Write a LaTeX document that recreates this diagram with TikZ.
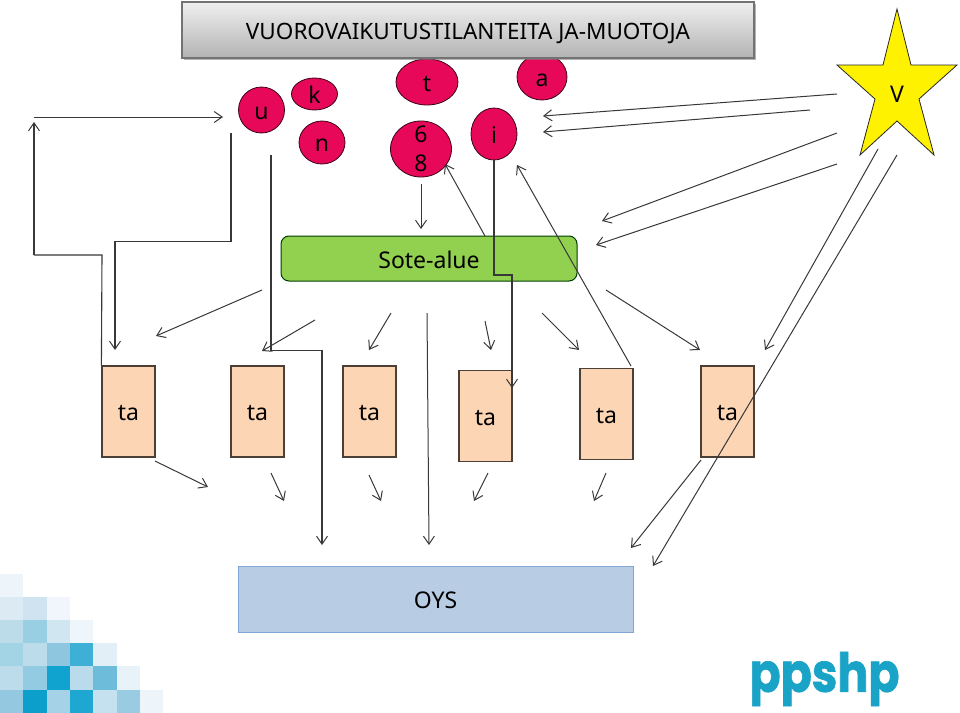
\documentclass[tikz,border=0pt]{standalone}
\usepackage{fontspec}
\setmainfont{Noto Sans}
\newfontfamily\logofont[BoldFeatures={FakeBold=1.2}]{Poppins}
\usetikzlibrary{arrows.meta,shadows,shapes.geometric}
\definecolor{blob}{HTML}{E8085A}
\definecolor{tacol}{HTML}{FCD5B4}
\definecolor{linecol}{HTML}{383838}
\definecolor{logocol}{HTML}{19A3C6}
\tikzset{
	lowtext/.style={text height=18pt, text depth=0pt},
	blobnode/.style={ellipse, draw=black!75!blob, fill=blob, line width=0.8pt, inner sep=0pt, font=\fontsize{23}{26}\selectfont, text=black},
	tabox/.style={rectangle, draw=black!70!tacol, fill=tacol, line width=1.2pt, minimum width=53pt, minimum height=91pt, inner sep=0pt, font=\fontsize{23}{26}\selectfont, lowtext},
	link/.style={draw=linecol, line width=1pt, -{Straight Barb[length=8pt,width=11pt,line width=1pt]}},
	plain/.style={draw=linecol, line width=1.1pt},
	route/.style={draw=linecol, line width=1.1pt, -{Straight Barb[length=8pt,width=11pt,line width=1pt]}}
}
\begin{document}
\begin{tikzpicture}[x=1pt, y=-1pt]
			\useasboundingbox (0, 0) rectangle (960, 712);
			
			%%%%% corner squares and logo %%%%%
			\foreach \cx/\cy/\hex in {0/0/EEF5FA,
				0/1/DBEAF3, 1/1/CFE4F0, 2/1/F0F6FB,
				0/2/BCDCEA, 1/2/99CFE3, 2/2/D0E6F1, 3/2/EEF5FB,
				0/3/A3D4E6, 1/3/BCDCEC, 2/3/8FC6DF, 3/3/3FB0D5, 4/3/E2EFF7,
				0/4/BCDCEC, 1/4/93CBE3, 2/4/11A3CF, 3/4/B9DBEC, 4/4/6DBDDA, 5/4/E8F2F9,
				0/5/93C8E0, 1/5/0C9FCB, 2/5/A5D2E6, 3/5/1EA8D1, 4/5/C5E1EF, 5/5/99CBE2, 6/5/EEF5FA}
			{
				\definecolor{cellcol}{HTML}{\hex}
				\fill[cellcol] ({\cx*23.3}, {573.5+\cy*23.2}) rectangle ({(\cx+1)*23.3}, {573.5+(\cy+1)*23.2});
			}
			\node[text=logocol, font=\logofont\bfseries\fontsize{54}{54}\selectfont, inner sep=0pt, xscale=0.85] (logo) at (824.5, 679) {ppshp};
			
			%%%%% circles %%%%%
			\node[blobnode, lowtext, minimum width=46pt, minimum height=46pt] (u) at (261.5, 110) {u};
			\node[blobnode, lowtext, minimum width=46pt, minimum height=32pt] (k) at (314.5, 94) {k};
			\node[blobnode, lowtext, minimum width=46pt, minimum height=43pt] (n) at (322, 142.5) {n};
			\node[blobnode, lowtext, minimum width=62pt, minimum height=46pt] (t) at (427, 82) {t};
			\node[blobnode, minimum width=61pt, minimum height=56pt] (sixeight) at (421, 149) {};
			\node[inner sep=0pt, font=\fontsize{23}{26}\selectfont, align=center] (sixeighttext) at (421, 149) {6\\[3.5pt]8};
			\node[blobnode, lowtext, minimum width=46pt, minimum height=52pt] (i) at (494, 134) {i};
			\node[blobnode, lowtext, minimum width=50pt, minimum height=46pt] (a) at (542, 77) {a};
			
			\node[rectangle, draw=black!55, top color=black!6, bottom color=black!30, drop shadow={shadow xshift=2pt, shadow yshift=-2pt, opacity=0.6},
				line width=1.2pt, minimum width=572pt, minimum height=56pt, inner sep=0pt, font=\fontsize{22.5}{26}\selectfont, lowtext] (title) at (468, 30) {VUOROVAIKUTUSTILANTEITA JA-MUOTOJA};
			
			%%%%% star %%%%%
			\draw[fill=yellow, draw=black!85, line width=0.8pt] (897, 9) -- (911, 65) -- (957, 65) -- (919, 99) -- (934, 155) -- (897, 121)
				-- (860, 155) -- (875, 99) -- (837, 65) -- (883, 65) -- cycle;
			\node[inner sep=0pt, font=\fontsize{23}{26}\selectfont, lowtext] (v) at (897, 93) {V};
			
			%%%%% boxes %%%%%
			\node[draw=black!60!green!60!black, fill={rgb,255:red,146;green,208;blue,80}, rounded corners=8pt, line width=1pt, minimum width=296pt, minimum height=45pt,
				inner sep=0pt, font=\fontsize{23}{26}\selectfont, text height=19pt, text depth=0pt] (sote) at (429, 258.5) {Sote-alue};
			
			\node[tabox] (ta1) at (128.5, 411.5) {ta};
			\node[tabox] (ta2) at (257.5, 411.5) {ta};
			\node[tabox] (ta3) at (369.5, 411.5) {ta};
			\node[tabox] (ta4) at (485.5, 416) {ta};
			\node[tabox] (ta5) at (606.5, 414) {ta};
			\node[tabox] (ta6) at (727.5, 411.5) {ta};
			
			\node[draw={rgb,255:red,130;green,165;blue,215}, fill={rgb,255:red,184;green,204;blue,228}, line width=1pt, minimum width=395pt, minimum height=66pt,
				inner sep=0pt, font=\fontsize{23}{26}\selectfont, text height=19pt, text depth=0pt] (oys) at (435.5, 599) {OYS};
			
			%%%%% free ends %%%%%
			\coordinate (loopa) at (102, 255);
			\coordinate (loopb) at (34, 255);
			\coordinate (loopc) at (34, 122);
			\coordinate (tops) at (34, 117);
			\coordinate (tope) at (223, 117);
			\coordinate (ubs) at (231, 133);
			\coordinate (uba) at (231, 241.5);
			\coordinate (ubb) at (115, 241.5);
			\coordinate (ube) at (115, 350);
			\coordinate (ucs) at (271, 155);
			\coordinate (uca) at (271, 350.5);
			\coordinate (ucb) at (322, 350.5);
			\coordinate (uce) at (322, 545);
			\coordinate (sixs) at (421, 184);
			\coordinate (sixe) at (421, 229);
			\coordinate (backs) at (485, 236);
			\coordinate (backe) at (445, 164);
			\coordinate (ia) at (494, 275);
			\coordinate (ib) at (512, 275);
			\coordinate (ie) at (512, 388);
			\coordinate (ta5s) at (631, 366);
			\coordinate (ta5e) at (517, 165);
			
			\draw[plain] (ta1.north west) -- (loopa) -- (loopb);
			\draw[route] (loopb) -- (loopc);
			\draw[link] (tops) -- (tope);
			\draw[route] (ubs) -- (uba) -- (ubb) -- (ube);
			\draw[route] (ucs) -- (uca) -- (ucb) -- (uce);
			\draw[link] (sixs) -- (sixe);
			\draw[link] (backs) -- (backe);
			\draw[route] (i.south) -- (ia) -- (ib) -- (ie);
			\draw[link] (ta5s) -- (ta5e);
			
			%%%%% from the star %%%%%
			\coordinate (va) at (837, 94);
			\coordinate (vae) at (543, 116);
			\coordinate (vb) at (810, 110);
			\coordinate (vbe) at (543, 132);
			\coordinate (vc) at (837, 133);
			\coordinate (vce) at (602, 221);
			\coordinate (vd) at (837, 164);
			\coordinate (vde) at (596, 245);
			\coordinate (ve) at (878, 149);
			\coordinate (vee) at (765, 350);
			\coordinate (vf) at (897, 155);
			\coordinate (vfe) at (653, 566);
			\draw[link] (va) -- (vae);
			\draw[link] (vb) -- (vbe);
			\draw[link] (vc) -- (vce);
			\draw[link] (vd) -- (vde);
			\draw[link] (ve) -- (vee);
			\draw[link] (vf) -- (vfe);
			
			%%%%% middle row %%%%%
			\coordinate (ma) at (262, 290);
			\coordinate (mae) at (156, 336);
			\coordinate (mb) at (315, 320);
			\coordinate (mbe) at (262, 351);
			\coordinate (mc) at (391, 313);
			\coordinate (mce) at (369, 350);
			\coordinate (md) at (427, 313);
			\coordinate (mde) at (429, 545);
			\coordinate (me) at (485, 321);
			\coordinate (mee) at (491, 350);
			\coordinate (mf) at (542, 313);
			\coordinate (mfe) at (579, 350);
			\coordinate (mg) at (606, 290);
			\coordinate (mge) at (700, 350);
			\draw[link] (ma) -- (mae);
			\draw[link] (mb) -- (mbe);
			\draw[link] (mc) -- (mce);
			\draw[link] (md) -- (mde);
			\draw[link] (me) -- (mee);
			\draw[link] (mf) -- (mfe);
			\draw[link] (mg) -- (mge);
			
			%%%%% lower row %%%%%
			\coordinate (la) at (155, 461);
			\coordinate (lae) at (208, 487);
			\coordinate (lb) at (271, 473);
			\coordinate (lbe) at (284, 501);
			\coordinate (lc) at (369, 475);
			\coordinate (lce) at (381, 501);
			\coordinate (ld) at (488, 473);
			\coordinate (lde) at (474, 501);
			\coordinate (le) at (606, 473);
			\coordinate (lee) at (594, 501);
			\coordinate (lf) at (701, 460);
			\coordinate (lfe) at (631, 548);
			\draw[link] (la) -- (lae);
			\draw[link] (lb) -- (lbe);
			\draw[link] (lc) -- (lce);
			\draw[link] (ld) -- (lde);
			\draw[link] (le) -- (lee);
			\draw[link] (lf) -- (lfe);
		\end{tikzpicture}
\end{document}
